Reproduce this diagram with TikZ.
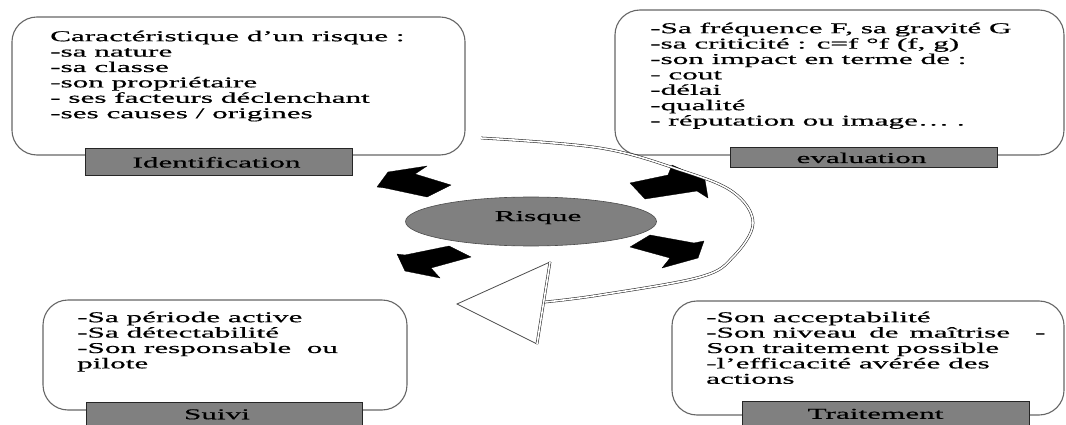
\documentclass[tikz,border=0pt]{standalone}
\usepackage{fontspec}
\setmainfont{Liberation Serif}[FakeStretch=2.08,FakeBold=0.6]
\usetikzlibrary{shapes.geometric}
\begin{document}
\begin{tikzpicture}[x=1pt,y=-1pt,
  card/.style={draw=black!60, line width=1.1pt, rounded corners=25pt, fill=white, inner sep=0pt, transform shape},
  tag/.style={draw=black!85, line width=1pt, fill=black!50, inner sep=0pt,
    text height=10pt, text depth=0pt, font=\fontsize{15}{15.4}\selectfont},
  bodytext/.style={anchor=north west, inner sep=0pt, align=left,
    font=\fontsize{15}{15.4}\selectfont},
  blockarrow/.style={fill=black, draw=black, line width=0.3pt, line join=round},
  band/.style={draw=black!85, line width=0.55pt, double=white, double distance=1.6pt},
  headtri/.style={draw=black!70, line width=0.8pt, fill=white, line join=miter}
]
\useasboundingbox (0,0) rectangle (1066,425);

% cards (corners wider than tall, as in the reference)
\begin{scope}[shift={(238.5,86)}, xscale=1.35]
  \node[card, minimum width=335.6pt, minimum height=138pt] (c1) at (0,0) {};
\end{scope}
\begin{scope}[shift={(839.5,82.5)}, xscale=1.35]
  \node[card, minimum width=332.6pt, minimum height=145pt] (c2) at (0,0) {};
\end{scope}
\begin{scope}[shift={(225,355)}, xscale=1.35]
  \node[card, minimum width=269.6pt, minimum height=110pt] (c3) at (0,0) {};
\end{scope}
\begin{scope}[shift={(868,358)}, xscale=1.35]
  \node[card, minimum width=290.4pt, minimum height=114pt] (c4) at (0,0) {};
\end{scope}

% card texts
\node[bodytext] (c1t) at (50,30.2) {\strut Caractéristique d’un risque :\\-sa nature\\-sa classe\\-son propriétaire\\- ses facteurs déclenchant\\-ses causes / origines};
\node[bodytext] (c2t) at (650,22.2) {\strut -Sa fréquence F, sa gravité G\\-sa criticité : c=f °f (f, g)\\-son impact en terme de :\\- cout\\-délai\\-qualité\\- réputation ou image\ldots{} .};
\node[bodytext] (c3t) at (77,311.2) {\strut -Sa période active\\-Sa détectabilité\\-Son responsable\ \ ou\\pilote};
\node[bodytext] (c4t) at (706,311.2) {\strut -Son acceptabilité\\-Son niveau\hspace{13pt}de\hspace{11pt}maîtrise\hspace{25pt}-\\Son traitement possible\\-l’efficacité avérée des\\actions};

% tags
\node[tag, minimum width=267pt, minimum height=27pt] (t1) at (218.5,162.5) {Identification\hspace*{4pt}};
\node[tag, minimum width=267pt, minimum height=20pt] (t2) at (863.5,158) {evaluation\hspace*{4pt}};
\node[tag, minimum width=276pt, minimum height=24.5pt] (t3) at (224,414.25) {Suivi\hspace*{14pt}};
\node[tag, minimum width=287pt, minimum height=25.5pt] (t4) at (885.5,413.75) {Traitement\hspace*{20pt}};

% centre
\node[ellipse, draw=black!70, line width=0.6pt, fill=black!50, minimum width=251pt, minimum height=49pt,
  inner sep=0pt, text height=9pt, text depth=10pt, font=\fontsize{15}{15.4}\selectfont] (risk) at (531,221.5) {\hspace*{14pt}Risque};

% block arrows
\fill[blockarrow] (377,187) -- (388,172) -- (427,166) -- (415,174) -- (451,185) -- (427,197) -- (385,188) -- cycle;
\fill[blockarrow] (397,254) -- (405,271) -- (440,278) -- (431,268) -- (471,257) -- (449,246) -- (405,255) -- cycle;
\fill[blockarrow] (630,183) -- (668,175) -- (672,165) -- (705,180) -- (708,198) -- (697,191) -- (645,199) -- cycle;
\fill[blockarrow] (704,241) -- (698,258) -- (662,268) -- (670,258) -- (630,247) -- (650,235) -- (694,243) -- cycle;

% curved arrow
\coordinate (cs) at (481,138);
\coordinate (ce) at (545,302);
\draw[band] plot[smooth, tension=0.6] coordinates {(cs) (600,148) (680,170) (733,192) (753,223) (733,257) (700,277) (600,295) (ce)};
\coordinate (h1) at (457,304);
\coordinate (h2) at (550,262);
\coordinate (h3) at (537,344);
\draw[headtri] (h1) -- (h2) -- (h3) -- cycle;
\draw[band] (h2) -- (h3);
\end{tikzpicture}
\end{document}
